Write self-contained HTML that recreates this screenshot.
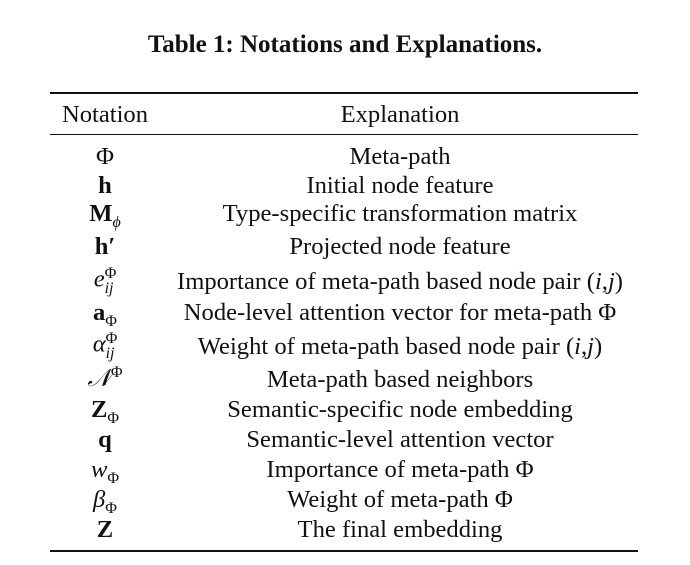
<!DOCTYPE html>
<html><head><meta charset="utf-8"><style>
body{margin:0;width:690px;height:565px;background:#fff;font-family:"Liberation Serif",serif;color:#111;position:relative;overflow:hidden}
.t{position:absolute;white-space:nowrap;font-size:24.6px;line-height:26px;transform:translate(-50%,-50%)}
.r{position:absolute;left:50px;width:588px;background:#111}
b{font-weight:bold}
i{font-style:italic}
sub,sup{font-size:16px;line-height:0}
.st{display:inline-block;vertical-align:middle;font-size:16px;line-height:15px;text-align:left}
.st span{display:block}
</style></head><body>
<div class="t" style="left:345px;top:45px;font-weight:bold;font-size:25px">Table 1: Notations and Explanations.</div>
<div class="r" style="top:92px;height:2px"></div>
<div class="r" style="top:134px;height:1px"></div>
<div class="r" style="top:550px;height:2px"></div>
<div class="t" style="left:105px;top:115px">Notation</div>
<div class="t" style="left:400px;top:115px">Explanation</div>

<div class="t" style="left:105px;top:157px">Φ</div>
<div class="t" style="left:400px;top:157px">Meta-path</div>
<div class="t" style="left:105px;top:186px"><b>h</b></div>
<div class="t" style="left:400px;top:186px">Initial node feature</div>
<div class="t" style="left:105px;top:214px"><b>M</b><sub><i>ϕ</i></sub></div>
<div class="t" style="left:400px;top:214px">Type-specific transformation matrix</div>
<div class="t" style="left:105px;top:247px"><b>h′</b></div>
<div class="t" style="left:400px;top:247px">Projected node feature</div>
<div class="t" style="left:105px;top:281px"><i>e</i><span class="st"><span>Φ</span><span><i>ij</i></span></span></div>
<div class="t" style="left:400px;top:282px">Importance of meta-path based node pair (<i>i</i>,<i>j</i>)</div>
<div class="t" style="left:105px;top:313px"><b>a</b><sub>Φ</sub></div>
<div class="t" style="left:400px;top:313px">Node-level attention vector for meta-path Φ</div>
<div class="t" style="left:105px;top:346px"><i>α</i><span class="st"><span>Φ</span><span><i>ij</i></span></span></div>
<div class="t" style="left:400px;top:347px">Weight of meta-path based node pair (<i>i</i>,<i>j</i>)</div>
<div class="t" style="left:105px;top:379px"><i>𝒩</i><sup>Φ</sup></div>
<div class="t" style="left:400px;top:380px">Meta-path based neighbors</div>
<div class="t" style="left:105px;top:410px"><b>Z</b><sub>Φ</sub></div>
<div class="t" style="left:400px;top:410px">Semantic-specific node embedding</div>
<div class="t" style="left:105px;top:440px"><b>q</b></div>
<div class="t" style="left:400px;top:440px">Semantic-level attention vector</div>
<div class="t" style="left:105px;top:470px"><i>w</i><sub>Φ</sub></div>
<div class="t" style="left:400px;top:470px">Importance of meta-path Φ</div>
<div class="t" style="left:105px;top:500px"><i>β</i><sub>Φ</sub></div>
<div class="t" style="left:400px;top:500px">Weight of meta-path Φ</div>
<div class="t" style="left:105px;top:530px"><b>Z</b></div>
<div class="t" style="left:400px;top:530px">The final embedding</div>
</body></html>
